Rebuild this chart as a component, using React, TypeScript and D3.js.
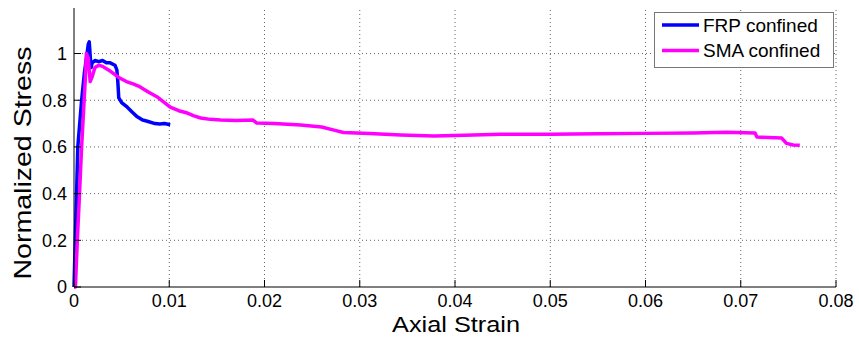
import React from "react";
import * as d3 from "d3";

const frpStrain = [0, 0.0001, 0.00027, 0.0004, 0.0006, 0.0008, 0.0011, 0.0013, 0.0015, 0.0016, 0.0017, 0.0018, 0.0019, 0.0022, 0.0026, 0.003, 0.0034, 0.0038, 0.0043, 0.0045, 0.0046, 0.0047, 0.005, 0.0056, 0.0061, 0.0066, 0.0072, 0.0077, 0.0085, 0.009, 0.0095, 0.0101];
const frpStress = [0, 0.15, 0.4, 0.6, 0.7, 0.8, 0.92, 0.98, 1.04, 1.05, 0.99, 0.94, 0.96, 0.97, 0.965, 0.97, 0.96, 0.96, 0.95, 0.93, 0.88, 0.81, 0.79, 0.77, 0.75, 0.73, 0.715, 0.71, 0.7, 0.698, 0.7, 0.695];

const smaStrain = [0, 0.00015, 0.00035, 0.00058, 0.0008, 0.001, 0.0012, 0.0013, 0.0015, 0.0017, 0.0019, 0.0022, 0.0026, 0.003, 0.0034, 0.0038, 0.0043, 0.0048, 0.0055, 0.0062, 0.0069, 0.0078, 0.0087, 0.0095, 0.0101, 0.011, 0.0119, 0.0126, 0.0133, 0.0143, 0.0154, 0.017, 0.0188, 0.0192, 0.021, 0.0238, 0.026, 0.0273, 0.0283, 0.031, 0.0343, 0.0378, 0.041, 0.0448, 0.05, 0.055, 0.06, 0.065, 0.0685, 0.0715, 0.0717, 0.0743, 0.0748, 0.0755, 0.0762];
const smaStress = [0, 0, 0.2, 0.4, 0.6, 0.75, 0.9, 1.0, 0.98, 0.88, 0.9, 0.94, 0.95, 0.945, 0.935, 0.925, 0.91, 0.895, 0.88, 0.87, 0.858, 0.835, 0.815, 0.79, 0.77, 0.755, 0.745, 0.733, 0.724, 0.718, 0.715, 0.713, 0.715, 0.702, 0.7, 0.694, 0.685, 0.672, 0.662, 0.657, 0.651, 0.647, 0.65, 0.654, 0.654, 0.656, 0.658, 0.66, 0.663, 0.66, 0.642, 0.638, 0.615, 0.608, 0.607];

const xTicks = [0, 0.01, 0.02, 0.03, 0.04, 0.05, 0.06, 0.07, 0.08];
const xTickLabels = ["0", "0.01", "0.02", "0.03", "0.04", "0.05", "0.06", "0.07", "0.08"];
const yTicks = [0, 0.2, 0.4, 0.6, 0.8, 1];
const yTickLabels = ["0", "0.2", "0.4", "0.6", "0.8", "1"];

const seriesNames = ["FRP confined", "SMA confined"];
const seriesColors = ["#0000ff", "#ff00ff"];

export default function App() {
  const W = 859, H = 340;
  const x = d3.scaleLinear().domain([0, 0.08]).range([74, 836]);
  const y = d3.scaleLinear().domain([0, 1.195]).range([287, 8]);
  const line = d3.line<[number, number]>().x(d => x(d[0])).y(d => y(d[1]));
  const frp: [number, number][] = frpStrain.map((s, i) => [s, frpStress[i]]);
  const sma: [number, number][] = smaStrain.map((s, i) => [s, smaStress[i]]);
  const font = "'Liberation Sans', Arial, sans-serif";
  const [y0, y1] = y.range();
  const [x0, x1] = x.range();
  return (
    <svg width={W} height={H} style={{ position: "fixed", left: 0, top: 0, background: "#fff" }} fontFamily={font}>
      <rect x={0} y={0} width={W} height={H} fill="#fff" />
      {xTicks.slice(1).map((t, i) => (
        <line key={"gx" + i} x1={x(t)} x2={x(t)} y1={y0} y2={y1} stroke="#666" strokeWidth={1} strokeDasharray="1 3" />
      ))}
      {yTicks.slice(1).map((t, i) => (
        <line key={"gy" + i} x1={x0} x2={x1} y1={y(t)} y2={y(t)} stroke="#666" strokeWidth={1} strokeDasharray="1 3" />
      ))}
      <path d={line(frp) || ""} fill="none" stroke={seriesColors[0]} strokeWidth={3.5} strokeLinejoin="round" />
      <path d={line(sma) || ""} fill="none" stroke={seriesColors[1]} strokeWidth={3.5} strokeLinejoin="round" />
      <line x1={x0} x2={x1} y1={y0} y2={y0} stroke="#000" strokeWidth={1} />
      <line x1={x0} x2={x0} y1={y0} y2={y1} stroke="#000" strokeWidth={1} />
      {xTicks.map((t, i) => (
        <g key={"xt" + i}>
          <line x1={x(t)} x2={x(t)} y1={y0} y2={y0 - 7} stroke="#000" />
          <text x={x(t)} y={307} fontSize={18} textAnchor="middle" fill="#000">{xTickLabels[i]}</text>
        </g>
      ))}
      {yTicks.map((t, i) => (
        <g key={"yt" + i}>
          <line x1={x0} x2={x0 + 7} y1={y(t)} y2={y(t)} stroke="#000" />
          <text x={67} y={y(t)} dy="0.35em" fontSize={18} textAnchor="end" fill="#000">{yTickLabels[i]}</text>
        </g>
      ))}
      <text x={456} y={332} fontSize={22} textAnchor="middle" textLength={128} lengthAdjust="spacingAndGlyphs" fill="#000">Axial Strain</text>
      <text transform="translate(31,163) rotate(-90)" fontSize={24} textAnchor="middle" textLength={233} lengthAdjust="spacingAndGlyphs" fill="#000">Normalized Stress</text>
      <rect x={654.5} y={12.5} width={179} height={55} fill="#fff" stroke="#777" strokeWidth={1} />
      {seriesNames.map((n, i) => (
        <g key={"lg" + i}>
          <line x1={662} x2={699} y1={25 + i * 25.5} y2={25 + i * 25.5} stroke={seriesColors[i]} strokeWidth={3.5} />
          <text x={703} y={25 + i * 25.5} dy="0.35em" fontSize={19} fill="#000">{n}</text>
        </g>
      ))}
    </svg>
  );
}
